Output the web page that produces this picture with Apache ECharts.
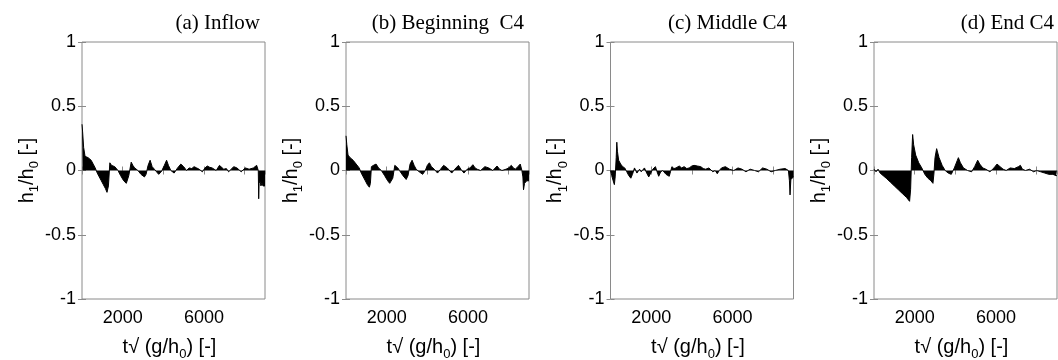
<!DOCTYPE html>
<html>
<head>
<meta charset="utf-8">
<script src="https://cdn.jsdelivr.net/npm/echarts@6/dist/echarts.min.js"></script>
<style>html,body{margin:0;padding:0;background:#fff}#c{width:1058px;height:360px}</style>
</head>
<body>
<div id="c"></div>
<script>
const panelTitles = ['(a) Inflow', '(b) Beginning  C4', '(c) Middle C4', '(d) End C4'];
const xLabelValues = [2000, 6000];
const yLabelValues = [1, 0.5, 0, -0.5, -1];

const inflow = [[0,0.36],[30,0.3],[80,0.18],[150,0.11],[300,0.1],[450,0.08],[550,0.05],[650,0.02],[750,-0.02],[850,-0.05],[950,-0.08],[1050,-0.11],[1150,-0.14],[1230,-0.17],[1260,-0.18],[1300,-0.12],[1370,0.06],[1450,0.04],[1610,0.03],[1770,0.0],[1900,-0.04],[2050,-0.08],[2180,-0.1],[2250,-0.09],[2300,-0.04],[2420,0.065],[2500,0.04],[2590,0.02],[2750,0.0],[2900,-0.03],[3070,-0.05],[3150,-0.03],[3250,0.04],[3350,0.08],[3450,0.03],[3560,0.01],[3770,-0.03],[3900,-0.01],[4050,0.04],[4160,0.08],[4250,0.04],[4370,0.0],[4530,-0.02],[4700,0.02],[4860,0.05],[5000,0.03],[5140,0.0],[5270,0.02],[5400,0.015],[5510,0.03],[5640,0.02],[5760,0.01],[5920,-0.01],[6050,0.02],[6160,0.035],[6280,0.025],[6400,0.02],[6600,0.0],[6760,0.04],[6970,0.01],[7100,0.015],[7210,-0.01],[7340,0.01],[7460,0.03],[7620,0.02],[7830,-0.01],[8030,0.02],[8220,0.01],[8430,0.02],[8590,0.04],[8670,0.0],[8690,-0.22],[8710,-0.1],[8750,-0.08],[8800,-0.12],[8850,-0.1],[8900,-0.12],[8950,-0.13],[9000,-0.12]];

const beginningC4 = [[0,0.27],[40,0.2],[100,0.12],[200,0.1],[350,0.08],[500,0.05],[650,0.02],[750,-0.02],[850,-0.05],[950,-0.08],[1050,-0.11],[1150,-0.13],[1200,-0.1],[1250,0.03],[1350,0.04],[1480,0.05],[1600,0.02],[1740,0.0],[1900,-0.04],[2050,-0.08],[2150,-0.1],[2230,-0.11],[2300,-0.06],[2400,0.04],[2470,0.05],[2550,0.02],[2630,0.0],[2800,-0.04],[2960,-0.07],[3050,-0.04],[3150,0.05],[3250,0.08],[3350,0.04],[3450,0.01],[3600,-0.01],[3770,-0.03],[3900,0.0],[4000,0.04],[4100,0.06],[4200,0.03],[4340,0.01],[4500,-0.02],[4650,0.01],[4800,0.04],[4880,0.05],[4980,0.02],[5070,0.01],[5200,-0.02],[5350,0.01],[5530,0.04],[5650,0.01],[5800,-0.02],[5960,0.01],[6100,0.02],[6240,0.045],[6350,0.02],[6450,0.01],[6620,0.0],[6830,0.03],[7020,0.02],[7220,0.0],[7430,0.035],[7550,0.01],[7670,0.0],[7870,0.01],[8000,0.02],[8130,0.04],[8230,0.02],[8330,0.01],[8450,0.03],[8570,0.05],[8650,0.0],[8700,-0.05],[8730,-0.15],[8780,-0.1],[8810,-0.1],[8890,-0.08],[8950,-0.09],[9000,-0.08]];

const middleC4 = [[0,0.0],[60,-0.04],[130,-0.08],[190,-0.11],[230,-0.05],[280,0.1],[310,0.22],[340,0.15],[400,0.08],[500,0.05],[600,0.03],[700,0.02],[800,-0.01],[900,-0.04],[1000,-0.06],[1080,-0.03],[1180,0.02],[1300,-0.02],[1430,0.01],[1510,-0.01],[1670,0.02],[1780,-0.02],[1880,-0.05],[1980,-0.02],[2080,0.01],[2210,0.03],[2290,-0.01],[2370,-0.045],[2470,-0.01],[2570,0.0],[2730,-0.03],[2890,-0.045],[2950,-0.01],[3020,0.03],[3120,0.015],[3220,0.02],[3300,0.01],[3380,0.035],[3500,0.02],[3620,0.03],[3750,0.015],[3870,0.02],[4000,0.035],[4110,0.04],[4200,0.025],[4270,0.035],[4440,0.03],[4560,0.015],[4680,0.01],[4840,0.02],[5030,-0.01],[5150,0.0],[5250,-0.025],[5350,0.0],[5460,0.02],[5650,0.03],[5850,0.01],[6060,0.0],[6270,0.02],[6470,0.01],[6660,-0.01],[6870,0.01],[7090,0.0],[7280,-0.01],[7480,0.02],[7690,0.01],[7900,-0.01],[8100,0.0],[8340,0.01],[8590,0.015],[8750,0.0],[8800,-0.08],[8830,-0.19],[8870,-0.07],[8950,-0.06],[9000,-0.05]];

const endC4 = [[0,0.01],[100,-0.01],[200,0.01],[300,-0.02],[450,-0.04],[600,-0.06],[800,-0.09],[1000,-0.12],[1200,-0.15],[1400,-0.18],[1600,-0.21],[1750,-0.24],[1800,-0.15],[1850,0.1],[1900,0.28],[1950,0.2],[2050,0.12],[2200,0.06],[2350,0.02],[2500,-0.03],[2650,-0.06],[2800,-0.08],[2900,-0.1],[2950,-0.02],[3000,0.1],[3080,0.17],[3200,0.1],[3350,0.04],[3500,0.0],[3650,-0.02],[3800,-0.03],[3950,0.02],[4100,0.08],[4150,0.1],[4250,0.06],[4400,0.02],[4600,0.0],[4800,-0.01],[4950,0.03],[5100,0.08],[5200,0.05],[5350,0.02],[5500,0.01],[5700,-0.01],[5900,0.02],[6050,0.05],[6100,0.06],[6200,0.03],[6350,0.01],[6500,0.0],[6700,0.02],[6900,0.015],[7100,0.03],[7200,0.04],[7300,0.01],[7450,0.0],[7650,0.01],[7850,-0.01],[8000,0.0],[8200,-0.01],[8400,-0.02],[8600,-0.03],[8800,-0.03],[8950,-0.04],[9000,-0.04]];

const panelData = [inflow, beginningC4, middleC4, endC4];

const chart = echarts.init(document.getElementById('c'), null, {renderer: 'canvas'});
const lefts = [82, 346, 610.5, 874];
const titleRights = [798, 534, 271, 4];
const W = 183, TOP = 42, H = 257;
const sans = 'Liberation Sans, Arial, sans-serif';
const serif = 'Liberation Serif, Times New Roman, serif';
const gridColor = '#8a8a8a';

const grids = [], xAxes = [], yAxes = [], series = [], titles = [];
const rich = {
  a: {fontFamily: sans, fontSize: 20, lineHeight: 20, color: '#000', verticalAlign: 'top'},
  s: {fontFamily: sans, fontSize: 13, lineHeight: 13, color: '#000', padding: [11, 0, 0, 0], verticalAlign: 'top'}
};
for (let i = 0; i < 4; i++) {
  grids.push({left: lefts[i], top: TOP, width: W, height: H, show: true, borderColor: gridColor, borderWidth: 1,
    backgroundColor: 'transparent', containLabel: false, outerBoundsMode: 'none'});
  titles.push({text: panelTitles[i], right: titleRights[i], top: 13, padding: 0,
    textStyle: {fontFamily: serif, fontSize: 21, fontWeight: 'normal', color: '#000'}});
  const common = {type: 'value', gridIndex: i, min: 0, max: 9000, interval: 2000,
    splitLine: {show: false}, axisLine: {show: false}};
  xAxes.push(Object.assign({}, common, {position: 'bottom',
    axisTick: {show: true, inside: true, length: 4, lineStyle: {color: gridColor}},
    axisLabel: {show: true, margin: 10, color: '#000', fontFamily: sans, fontSize: 18,
      formatter: v => xLabelValues.indexOf(v) >= 0 ? String(v) : '',
      showMaxLabel: false},
    name: '{a|t\u221A (g/h}{s|0}{a|) [-]}', nameLocation: 'middle', nameGap: 38,
    nameTextStyle: {rich: rich, padding: [0, 8, 0, 0]}}));
  xAxes.push(Object.assign({}, common, {position: 'top',
    axisTick: {show: true, inside: true, length: 4, lineStyle: {color: gridColor}},
    axisLabel: {show: false}}));
  const ycommon = {type: 'value', gridIndex: i, min: -1, max: 1, interval: 0.5,
    splitLine: {show: false}, axisLine: {show: false}};
  yAxes.push(Object.assign({}, ycommon, {position: 'left',
    axisTick: {show: true, inside: true, length: 4, lineStyle: {color: gridColor}},
    axisLabel: {show: true, margin: 6, color: '#000', fontFamily: sans, fontSize: 18,
      formatter: v => yLabelValues.indexOf(v) >= 0 ? String(v) : ''},
    name: '{a|h}{s|1}{a|/h}{s|0}{a| [-]}', nameLocation: 'middle', nameGap: 45, nameRotate: 90,
    nameTextStyle: {rich: rich}}));
  yAxes.push(Object.assign({}, ycommon, {position: 'right',
    axisTick: {show: true, inside: true, length: 4, lineStyle: {color: gridColor}},
    axisLabel: {show: false}}));
  series.push({type: 'line', xAxisIndex: 2 * i, yAxisIndex: 2 * i, data: panelData[i],
    showSymbol: false, symbol: 'none', animation: false,
    lineStyle: {color: '#000', width: 1}, areaStyle: {color: '#000', opacity: 1, origin: 0}});
}

chart.setOption({animation: false, title: titles, grid: grids, xAxis: xAxes, yAxis: yAxes, series: series});
</script>
</body>
</html>
